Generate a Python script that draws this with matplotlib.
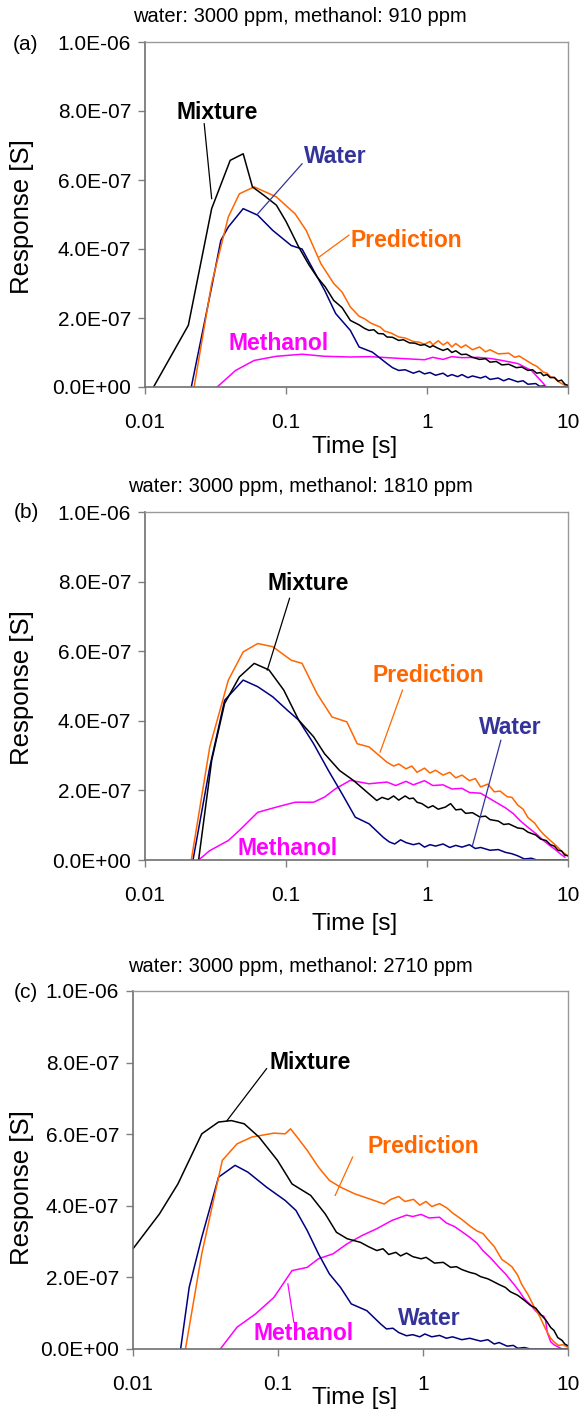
import numpy as np
import matplotlib
matplotlib.use("Agg")
import matplotlib.pyplot as plt
from matplotlib.ticker import FuncFormatter, FixedLocator, NullLocator

plt.rcParams['font.family'] = ['Liberation Sans', 'DejaVu Sans']

# ---- data (time in s, response in units of 1e-7 S) ----
# panel (a): water 3000 ppm, methanol 910 ppm
t_mix_a = [0.0115, 0.0203, 0.0297, 0.0402, 0.0497, 0.0578, 0.07, 0.0855, 0.10, 0.123, 0.145, 0.166, 0.19,
           0.218, 0.25, 0.286, 0.33, 0.36, 0.388, 0.42, 0.45, 0.49, 0.52, 0.57, 0.63, 0.68, 0.75, 0.82,
           0.9, 0.96, 1.05, 1.1, 1.2, 1.3, 1.4, 1.5, 1.6, 1.75, 1.9, 2.1, 2.36, 2.6, 2.8, 3.1, 3.4, 3.8,
           4.3, 4.7, 5.2, 5.6, 6.0, 6.4, 6.7, 7.1, 7.5, 8.0, 8.5, 9.0, 9.5, 10]
r_mix_a = [0, 1.79, 5.17, 6.57, 6.76, 5.80, 5.55, 5.27, 4.80, 4.06, 3.55, 3.19, 2.90,
           2.51, 2.30, 1.93, 1.80, 1.70, 1.64, 1.66, 1.55, 1.54, 1.45, 1.44, 1.35, 1.37, 1.28, 1.27,
           1.21, 1.23, 1.15, 1.20, 1.12, 1.06, 1.11, 1.00, 1.05, 0.94, 0.95, 0.86, 0.80, 0.82, 0.72, 0.74,
           0.64, 0.66, 0.56, 0.58, 0.48, 0.50, 0.40, 0.42, 0.33, 0.36, 0.27, 0.28, 0.17, 0.20, 0.08, 0.05]
t_wat_a = [0.0213, 0.0297, 0.0345, 0.039, 0.0497, 0.063, 0.0805, 0.109, 0.13, 0.157, 0.188, 0.225, 0.286,
           0.33, 0.41, 0.52, 0.57, 0.63, 0.7, 0.8, 0.88, 0.96, 1.05, 1.15, 1.3, 1.4, 1.5, 1.65, 1.77,
           1.95, 2.1, 2.4, 2.6, 2.8, 3.2, 3.5, 3.8, 4.4, 4.8, 5.2, 5.9, 6.3, 6.7, 7.0, 10]
r_wat_a = [0, 2.90, 4.25, 4.64, 5.17, 4.98, 4.54, 4.10, 4.00, 3.38, 2.80, 2.13, 1.64,
           1.16, 1.01, 0.68, 0.56, 0.48, 0.50, 0.40, 0.46, 0.38, 0.42, 0.34, 0.40, 0.31, 0.36, 0.30, 0.36,
           0.27, 0.32, 0.26, 0.31, 0.22, 0.26, 0.18, 0.24, 0.15, 0.18, 0.08, 0.10, 0.02, 0.03, 0, 0]
t_pred_a = [0.0223, 0.0297, 0.039, 0.0467, 0.0595, 0.0855, 0.116, 0.139, 0.177, 0.218, 0.25, 0.286, 0.33,
            0.36, 0.40, 0.465, 0.5, 0.56, 0.63, 0.7, 0.8, 0.88, 0.96, 1.05, 1.1, 1.2, 1.3, 1.4, 1.5, 1.6,
            1.75, 1.88, 2.1, 2.36, 2.6, 2.8, 3.2, 3.8, 4.2, 4.5, 5.2, 5.6, 6.0, 6.7, 7.1, 7.5, 8.0, 8.5,
            9.2, 10]
r_pred_a = [0, 3.00, 4.93, 5.60, 5.80, 5.51, 5.02, 4.54, 3.57, 3.00, 2.75, 2.32, 2.05,
            1.98, 1.85, 1.74, 1.62, 1.56, 1.45, 1.42, 1.32, 1.30, 1.24, 1.32, 1.22, 1.34, 1.22, 1.30, 1.16,
            1.26, 1.14, 1.22, 1.08, 1.16, 1.02, 1.08, 0.96, 0.98, 0.86, 0.90, 0.74, 0.66, 0.60, 0.43, 0.40,
            0.30, 0.26, 0.16, 0.08, 0]
t_meth_a = [0.0325, 0.0439, 0.0595, 0.0855, 0.13, 0.188, 0.286, 0.4, 0.52, 0.7, 0.96, 1.1, 1.3, 1.5,
            1.77, 2.3, 2.9, 3.5, 4.4, 5.5, 6.7, 7.0]
r_meth_a = [0, 0.48, 0.77, 0.89, 0.95, 0.89, 0.87, 0.88, 0.85, 0.82, 0.79, 0.86, 0.80, 0.88,
            0.85, 0.86, 0.82, 0.76, 0.68, 0.48, 0.10, 0]

# panel (b): water 3000 ppm, methanol 1810 ppm
t_mix_b = [0.024, 0.0297, 0.0367, 0.0467, 0.0595, 0.0758, 0.0965, 0.123, 0.157, 0.188, 0.24, 0.30,
           0.388, 0.44, 0.48, 0.53, 0.58, 0.63, 0.7, 0.75, 0.8, 0.85, 0.92, 1.02, 1.1, 1.2, 1.35, 1.47,
           1.6, 1.75, 1.88, 2.1, 2.36, 2.6, 2.8, 3.2, 3.5, 3.8, 4.4, 4.8, 5.2, 5.9, 6.4, 7.0, 7.5, 8.0,
           8.5, 9.0, 9.5, 10]
r_mix_b = [0, 2.86, 4.50, 5.26, 5.65, 5.46, 4.88, 4.02, 3.54, 3.05, 2.57, 2.29,
           1.90, 1.71, 1.80, 1.74, 1.84, 1.72, 1.84, 1.76, 1.78, 1.66, 1.62, 1.50, 1.56, 1.46, 1.52, 1.62,
           1.44, 1.46, 1.34, 1.36, 1.24, 1.26, 1.16, 1.12, 1.02, 1.04, 0.92, 0.90, 0.80, 0.72, 0.60, 0.56,
           0.44, 0.40, 0.28, 0.26, 0.14, 0.12]
t_wat_b = [0.0219, 0.0288, 0.0367, 0.0497, 0.063, 0.0805, 0.1025, 0.123, 0.157, 0.2, 0.25, 0.31, 0.388,
           0.49, 0.54, 0.59, 0.65, 0.71, 0.8, 0.88, 0.96, 1.05, 1.15, 1.3, 1.45, 1.6, 1.77, 2.0, 2.2,
           2.4, 2.8, 3.2, 3.6, 4.0, 4.4, 4.9, 5.5, 6.0, 10]
r_wat_b = [0, 2.67, 4.59, 5.17, 4.98, 4.69, 4.30, 4.02, 3.34, 2.57, 1.90, 1.23, 1.04,
           0.65, 0.52, 0.46, 0.58, 0.50, 0.44, 0.48, 0.37, 0.44, 0.40, 0.46, 0.36, 0.42, 0.37, 0.44, 0.33,
           0.36, 0.28, 0.30, 0.22, 0.18, 0.12, 0.03, 0.05, 0, 0]
t_pred_b = [0.0213, 0.0288, 0.039, 0.0497, 0.063, 0.0805, 0.109, 0.13, 0.166, 0.212, 0.27, 0.32, 0.388,
            0.52, 0.58, 0.63, 0.71, 0.78, 0.85, 0.96, 1.05, 1.15, 1.3, 1.45, 1.6, 1.77, 2.0, 2.2, 2.4,
            2.7, 3.0, 3.3, 3.7, 4.0, 4.4, 4.8, 5.2, 5.8, 6.3, 6.7, 7.3, 8.0, 8.5, 9.2, 10]
r_pred_b = [0, 3.25, 5.17, 5.98, 6.22, 6.13, 5.74, 5.65, 4.78, 4.11, 3.97, 3.34, 3.25,
            2.81, 2.70, 2.76, 2.62, 2.70, 2.52, 2.64, 2.50, 2.58, 2.44, 2.52, 2.36, 2.44, 2.28, 2.34, 2.10,
            2.18, 1.96, 1.98, 1.82, 1.80, 1.58, 1.46, 1.22, 1.06, 0.86, 0.74, 0.60, 0.46, 0.36, 0.22, 0.12]
t_meth_b = [0.024, 0.0288, 0.039, 0.0467, 0.063, 0.0855, 0.116, 0.157, 0.188, 0.225, 0.286, 0.388, 0.52,
            0.6, 0.71, 0.8, 0.96, 1.1, 1.3, 1.5, 1.77, 2.0, 2.4, 2.8, 3.2, 3.6, 4.1, 4.6, 5.2, 6.0, 6.7,
            7.3, 8.0, 8.8, 9.5]
r_meth_b = [0, 0.27, 0.56, 0.85, 1.37, 1.52, 1.66, 1.66, 1.81, 2.05, 2.29, 2.19, 2.24,
            2.14, 2.26, 2.16, 2.28, 2.14, 2.16, 2.04, 2.06, 1.94, 1.92, 1.76, 1.62, 1.50, 1.33, 1.12, 0.94,
            0.74, 0.56, 0.44, 0.32, 0.18, 0.08]

# panel (c): water 3000 ppm, methanol 2710 ppm
t_mix_c = [0.01, 0.0152, 0.0204, 0.0298, 0.0389, 0.0477, 0.0585, 0.074, 0.0991, 0.125, 0.168, 0.212,
           0.253, 0.30, 0.37, 0.42, 0.48, 0.53, 0.58, 0.65, 0.7, 0.77, 0.85, 0.97, 1.05, 1.2, 1.38, 1.55,
           1.7, 1.85, 2.1, 2.3, 2.5, 2.8, 3.0, 3.35, 3.7, 4.0, 4.5, 5.0, 5.5, 6.0, 6.5, 7.0, 7.6, 8.0,
           8.5, 9.1, 9.5, 10]
r_mix_c = [2.80, 3.77, 4.61, 6.01, 6.34, 6.38, 6.29, 5.92, 5.27, 4.61, 4.29, 3.77,
           3.26, 3.08, 2.98, 2.86, 2.75, 2.80, 2.64, 2.70, 2.60, 2.68, 2.58, 2.52, 2.56, 2.40, 2.42, 2.28,
           2.30, 2.22, 2.14, 2.10, 2.02, 1.96, 1.90, 1.80, 1.72, 1.60, 1.50, 1.36, 1.22, 1.14, 0.96, 0.82,
           0.60, 0.52, 0.32, 0.24, 0.14, 0.09]
t_wat_c = [0.0213, 0.0244, 0.0298, 0.0389, 0.0506, 0.062, 0.0834, 0.112, 0.133, 0.159, 0.19, 0.226, 0.27,
           0.32, 0.41, 0.51, 0.56, 0.62, 0.68, 0.77, 0.85, 0.95, 1.03, 1.15, 1.3, 1.45, 1.6, 1.85, 2.1,
           2.5, 2.8, 3.1, 3.35, 3.8, 4.2, 4.5, 5.0, 5.5, 10]
r_wat_c = [0, 1.72, 3.12, 4.80, 5.13, 4.94, 4.52, 4.15, 3.87, 3.31, 2.66, 2.10, 1.72,
           1.26, 1.07, 0.70, 0.56, 0.58, 0.46, 0.37, 0.40, 0.34, 0.42, 0.34, 0.38, 0.30, 0.34, 0.26, 0.30,
           0.22, 0.26, 0.14, 0.18, 0.08, 0.10, 0.02, 0.04, 0, 0]
t_pred_c = [0.0230, 0.0298, 0.0413, 0.0522, 0.0659, 0.0937, 0.112, 0.122, 0.133, 0.159, 0.19, 0.226,
            0.27, 0.34, 0.43, 0.54, 0.6, 0.68, 0.75, 0.86, 0.95, 1.05, 1.15, 1.3, 1.46, 1.6, 1.85, 2.1,
            2.35, 2.6, 2.8, 3.1, 3.5, 3.8, 4.1, 4.5, 4.8, 5.3, 5.8, 6.4, 7.0, 7.6, 8.0, 8.6, 9.2, 10]
r_pred_c = [0, 2.66, 5.27, 5.73, 5.92, 6.03, 6.01, 6.15, 5.96, 5.55, 5.08, 4.71,
            4.52, 4.33, 4.19, 4.05, 4.18, 4.26, 4.12, 4.18, 4.02, 4.12, 3.98, 4.06, 3.94, 3.80, 3.62, 3.44,
            3.30, 3.22, 3.06, 2.86, 2.50, 2.40, 2.30, 2.06, 1.80, 1.52, 1.20, 0.90, 0.56, 0.30, 0.20, 0.10,
            0.12, 0.05]
t_meth_c = [0.040, 0.0522, 0.07, 0.0937, 0.125, 0.159, 0.19, 0.24, 0.30, 0.38, 0.48, 0.61, 0.7, 0.77,
            0.85, 0.97, 1.1, 1.3, 1.45, 1.65, 1.85, 2.1, 2.35, 2.6, 2.9, 3.35, 3.7, 4.25, 4.6, 5.0, 5.5,
            6.0, 6.4, 6.8, 7.0, 7.2, 7.6, 8.0, 9.1]
r_meth_c = [0, 0.61, 0.98, 1.44, 2.19, 2.28, 2.52, 2.66, 2.94, 3.17, 3.36, 3.59, 3.68, 3.74,
            3.70, 3.76, 3.66, 3.68, 3.52, 3.42, 3.28, 3.12, 2.96, 2.74, 2.56, 2.28, 2.10, 1.80, 1.62, 1.40,
            1.24, 1.06, 0.96, 0.92, 0.80, 0.46, 0.20, 0.12, 0]

panel_titles = ["water: 3000 ppm, methanol: 910 ppm",
                "water: 3000 ppm, methanol: 1810 ppm",
                "water: 3000 ppm, methanol: 2710 ppm"]
panel_tags = ["(a)", "(b)", "(c)"]
x_ticks = [0.01, 0.1, 1, 10]
x_tick_labels = ["0.01", "0.1", "1", "10"]
y_ticks = [0, 2e-7, 4e-7, 6e-7, 8e-7, 1e-6]

# colours
C_MIX = "black"
C_WAT = "#000080"
C_WAT_TXT = "#333399"
C_PRED = "#FF6600"
C_METH = "#FF00FF"

W, H = 579, 1410


def fx(px):
    return px / W


def fy(py):
    return 1 - py / H


def setup_axes(ax):
    ax.set_xscale("log")
    ax.set_xlim(0.01, 10)
    ax.set_ylim(0, 1e-6)
    ax.xaxis.set_major_locator(FixedLocator(x_ticks))
    ax.xaxis.set_minor_locator(NullLocator())
    ax.set_xticklabels(x_tick_labels)
    ax.set_yticks(y_ticks)
    ax.yaxis.set_major_formatter(FuncFormatter(lambda v, p: f"{v:.1E}"))
    ax.tick_params(axis="both", direction="out", length=5, width=1, color="#808080", labelsize=15)
    ax.tick_params(axis="x", pad=14)
    ax.tick_params(axis="y", pad=5)
    for side in ["left", "bottom"]:
        ax.spines[side].set_color("#707070")
        ax.spines[side].set_linewidth(1.2)
    for side in ["top", "right"]:
        ax.spines[side].set_color("#9a9a9a")
        ax.spines[side].set_linewidth(1.0)


def draw_curves(ax, mix, wat, pred, meth):
    # methanol first, mixture on top
    ax.plot(meth[0], np.array(meth[1]) * 1e-7, color=C_METH, lw=1.1)
    ax.plot(wat[0], np.array(wat[1]) * 1e-7, color=C_WAT, lw=1.1)
    ax.plot(pred[0], np.array(pred[1]) * 1e-7, color=C_PRED, lw=1.1)
    ax.plot(mix[0], np.array(mix[1]) * 1e-7, color=C_MIX, lw=1.1)


def label(ax, txt, pos, color, leader=None):
    ax.text(pos[0], pos[1] * 1e-7, txt, color=color, fontsize=16.5, fontweight="bold",
            ha="center", va="center")
    if leader is not None:
        (x0, y0), (x1, y1) = leader
        ax.plot([x0, x1], [y0 * 1e-7, y1 * 1e-7], color=color, lw=0.9)


fig = plt.figure(figsize=(W / 100, H / 100), dpi=100)

# axes boxes in pixels: left, top, right, bottom
boxes = [(145, 42, 568, 387), (145, 512, 568, 860), (133, 991, 568, 1349)]
title_y = [17, 487, 967]
tag_y = [45, 513, 992]
ylabel_y = [217, 688, 1188]
xlabel_y = [447, 924, 1398]

axes = []
for i, (l, t, r, b) in enumerate(boxes):
    ax = fig.add_axes([fx(l), fy(b), (r - l) / W, (b - t) / H])
    setup_axes(ax)
    axes.append(ax)
    fig.text(fx(300), fy(title_y[i]), panel_titles[i], fontsize=14.5, ha="center", va="center")
    fig.text(fx(26), fy(tag_y[i]), panel_tags[i], fontsize=15, ha="center", va="center")
    fig.text(fx(22), fy(ylabel_y[i]), "Response [S]", fontsize=18.5, rotation=90, ha="center", va="center")
    fig.text(fx(355), fy(xlabel_y[i]), "Time [s]", fontsize=17.5, ha="center", va="center")

# (a)
ax = axes[0]
draw_curves(ax, (t_mix_a, r_mix_a), (t_wat_a, r_wat_a), (t_pred_a, r_pred_a), (t_meth_a, r_meth_a))
label(ax, "Mixture", (0.0325, 7.97), C_MIX, ((0.0263, 7.63), (0.0297, 5.46)))
label(ax, "Water", (0.225, 6.67), C_WAT_TXT, ((0.13, 6.47), (0.063, 5.02)))
label(ax, "Prediction", (0.71, 4.25), C_PRED, ((0.279, 4.40), (0.172, 3.77)))
label(ax, "Methanol", (0.0884, 1.26), C_METH)

# (b)
ax = axes[1]
draw_curves(ax, (t_mix_b, r_mix_b), (t_wat_b, r_wat_b), (t_pred_b, r_pred_b), (t_meth_b, r_meth_b))
label(ax, "Mixture", (0.143, 7.95), C_MIX, ((0.106, 7.52), (0.0737, 5.46)))
label(ax, "Prediction", (1.02, 5.31), C_PRED, ((0.67, 4.88), (0.465, 3.10)))
label(ax, "Water", (3.87, 3.82), C_WAT_TXT, ((3.34, 3.44), (2.1, 0.41)))
label(ax, "Methanol", (0.1026, 0.32), C_METH)

# (c)
ax = axes[2]
draw_curves(ax, (t_mix_c, r_mix_c), (t_wat_c, r_wat_c), (t_pred_c, r_pred_c), (t_meth_c, r_meth_c))
label(ax, "Mixture", (0.166, 7.99), C_MIX, ((0.0834, 7.83), (0.0445, 6.38)))
label(ax, "Prediction", (1.01, 5.66), C_PRED, ((0.327, 5.36), (0.248, 4.29)))
label(ax, "Water", (1.1, 0.84), C_WAT_TXT)
label(ax, "Methanol", (0.151, 0.42), C_METH, ((0.1285, 0.75), (0.117, 1.82)))

fig.savefig("out.png", dpi=100)
